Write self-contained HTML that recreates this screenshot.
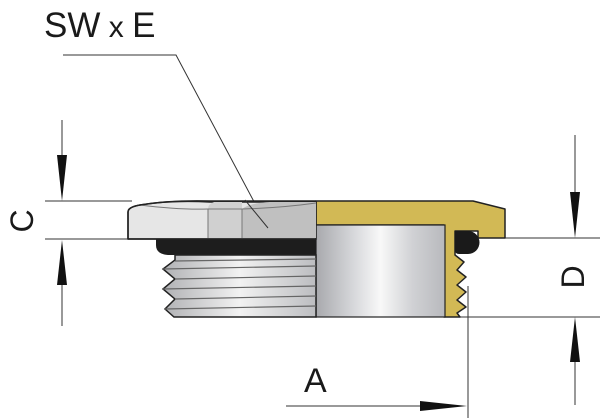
<!DOCTYPE html>
<html><head><meta charset="utf-8"><style>
html,body{margin:0;padding:0;background:#fff;}
svg{display:block;}
text{font-family:"Liberation Sans","DejaVu Sans",sans-serif;fill:#1a1a1a;}
</style></head><body>
<svg width="600" height="419" viewBox="0 0 600 419" xmlns="http://www.w3.org/2000/svg">
<defs>
<linearGradient id="cyl" x1="0" x2="1" y1="0" y2="0">
<stop offset="0" stop-color="#a8a9ad"/><stop offset="0.3" stop-color="#d8d9dc"/><stop offset="0.5" stop-color="#f8f8f8"/><stop offset="0.75" stop-color="#d0d1d4"/><stop offset="1" stop-color="#b8b9bd"/>
</linearGradient>
<linearGradient id="thr" x1="0" x2="1" y1="0" y2="0">
<stop offset="0" stop-color="#b0b1b4"/><stop offset="0.5" stop-color="#f2f2f2"/><stop offset="1" stop-color="#bcbdc0"/>
</linearGradient>
</defs>
<g stroke="#333" stroke-width="1" fill="none">
<line x1="45" y1="201" x2="132" y2="201"/>
<line x1="45" y1="239" x2="132" y2="239"/>
<line x1="62" y1="120" x2="62" y2="165"/>
<line x1="62" y1="280" x2="62" y2="326"/>
<line x1="505" y1="238" x2="600" y2="238"/>
<line x1="458" y1="317" x2="600" y2="317"/>
<line x1="575" y1="135" x2="575" y2="200"/>
<line x1="575" y1="355" x2="575" y2="405"/>
<line x1="468" y1="286" x2="468" y2="418"/>
<line x1="286" y1="406" x2="425" y2="406"/>
<polyline points="63,55 176,55 268,228"/>
</g>
<g fill="#111">
<polygon points="57,155 67,155 62,201"/>
<polygon points="57,285 67,285 62,240"/>
<polygon points="570,192 580,192 575,238"/>
<polygon points="570,362 580,362 575,317"/>
<polygon points="420,401 420,411 467,406"/>
</g>
<polygon points="316,201 473,201 505,209 505,238 478,238 478,231 455,231 455,255 464,262 457,270 466,277 457,285 466,292 457,300 466,307 457,313 460,317 444,317 444,225 316,225" fill="#d2b955" stroke="#222" stroke-width="1.5" stroke-linejoin="round"/>
<rect x="316" y="225" width="129" height="92" fill="url(#cyl)" stroke="#222" stroke-width="1.2"/>
<path d="M455,231 L468,231 A11.5,11.5 0 0 1 468,254 L459,254 Q455,254 455,250 Z" fill="#1a1a1a"/>
<path d="M156,239 L316,239 L316,255 L170,255 Q156,255 156,245 Z" fill="#1d1d1d"/>
<path d="M175,255 L316,255 L316,317 L174,317 L165,309 L175,299 L163,289 L175,279 L163,269 L175,260 Z" fill="url(#thr)" stroke="#222" stroke-width="1.5"/>
<g stroke="#666" stroke-width="1.2">
<line x1="175" y1="261" x2="316" y2="259"/>
<line x1="163" y1="269" x2="316" y2="266"/>
<line x1="175" y1="279" x2="316" y2="276"/>
<line x1="163" y1="289" x2="316" y2="286"/>
<line x1="175" y1="299" x2="316" y2="296"/>
<line x1="165" y1="309" x2="316" y2="306"/>
</g>
<path d="M128,239 L128,212 Q128,207 140,205 Q170,200 210,202 L316,202 L316,239 Z" fill="#e6e6e6" stroke="#222" stroke-width="1.5"/>
<path d="M208,209 Q208,204 214,202 L242,202 L242,238 L208,238 Z" fill="#d0d0d0"/>
<path d="M242,209 Q250,203 270,202 L316,202 L316,238 L242,238 Z" fill="#c0c0c0"/>
<g stroke="#777" stroke-width="1" fill="none">
<line x1="208" y1="209" x2="208" y2="238"/>
<line x1="242" y1="209" x2="242" y2="238"/>
<path d="M140,205 Q180,210 208,209 L242,209 Q280,208 316,203"/>
</g>
<path d="M128,239 L128,212 Q128,207 140,205 Q170,200 210,201 L316,201" fill="none" stroke="#222" stroke-width="1.5"/>
<line x1="128" y1="239" x2="316" y2="239" stroke="#222" stroke-width="1.5"/>
<line x1="245" y1="200" x2="268" y2="228" stroke="#333" stroke-width="1"/>
<text x="44" y="37" font-size="35">SW<tspan font-size="30"> x </tspan>E</text>
<text x="0" y="0" font-size="32" transform="translate(33,221) rotate(-90)" text-anchor="middle">C</text>
<text x="0" y="0" font-size="32" transform="translate(584,277) rotate(-90)" text-anchor="middle">D</text>
<text x="304" y="392" font-size="34">A</text>
</svg>
</body></html>
